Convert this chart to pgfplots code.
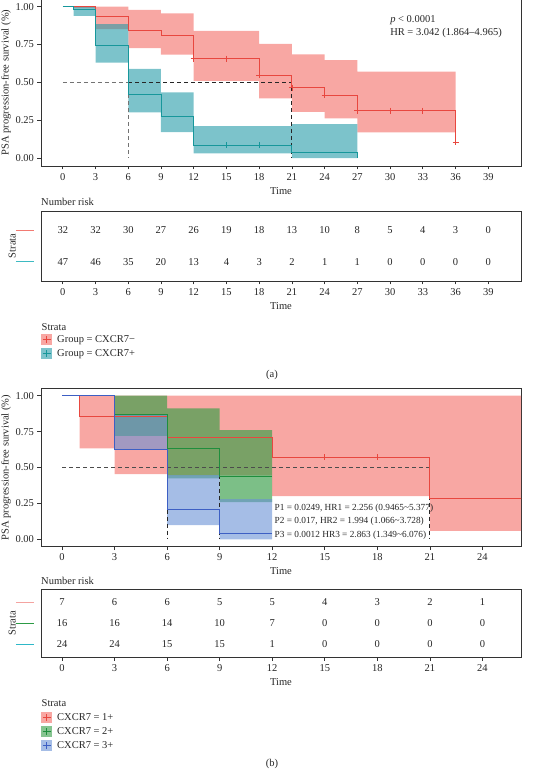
\documentclass[border=0pt]{standalone}
\usepackage{pgfplots}
\pgfplotsset{compat=1.18}
\usepackage{fontspec}
\setmainfont{Liberation Serif}
\definecolor{redline}{HTML}{E8473F}
\definecolor{redfill}{HTML}{F46C65}
\definecolor{cyanline}{HTML}{17979B}
\definecolor{cyanfill}{HTML}{259BA8}
\definecolor{greenline}{HTML}{1F8E3D}
\definecolor{greenfill}{HTML}{359D46}
\definecolor{blueline}{HTML}{3D5FC4}
\definecolor{bluefill}{HTML}{6991D5}
\definecolor{framec}{HTML}{333333}
\definecolor{riskA}{HTML}{F27A72}
\definecolor{riskB}{HTML}{3DBAC2}
\definecolor{riskp}{HTML}{F4A3A0}
\definecolor{riskg}{HTML}{2C9B45}
\definecolor{riskc}{HTML}{2EB8C8}
\newcommand{\fs}{\fontsize{10.5}{12}\selectfont}
\newcommand{\rl}[1]{\textcolor{#1}{\rule{18pt}{0.9pt}}}
\pgfplotsset{
  kmbase/.style={
    scale only axis, width=480pt,
    axis line style={framec, line width=0.9pt},
    tick pos=left, tick align=outside, major tick length=3.5pt,
    every tick/.style={framec, line width=0.8pt},
    tick label style={font=\fs, text=black!85},
    xticklabel style={anchor=north, text height=7pt, text depth=0pt},
    label style={font=\fs, text=black!85},
    /pgf/number format/assume math mode=true,
  },
  ticksA/.style={xtick={0,3,6,9,12,15,18,21,24,27,30,33,36,39},
     xticklabels={0,3,6,9,12,15,18,21,24,27,30,33,36,39}},
  ticksB/.style={xtick={0,3,6,9,12,15,18,21,24},
     xticklabels={0,3,6,9,12,15,18,21,24}},
  kmkey/.style 2 args={legend image code/.code={
     \fill[#1, fill opacity=0.6, draw=none] (0pt,-5.5pt) rectangle (11pt,5.5pt);
     \draw[#2, line width=0.8pt] (1.5pt,0pt)--(9.5pt,0pt) (5.5pt,-3.5pt)--(5.5pt,3.5pt);}},
  kmleg/.style={legend style={draw=none, fill=none, font=\fs, text=black!85,
     legend cell align=left, row sep=3pt, column sep=5pt, inner sep=0pt,
     nodes={inner sep=0pt}}},
  surv/.style={line width=0.9pt},
  cens/.style={only marks, mark=+, mark size=3pt, line width=0.8pt},
  med/.style={dash pattern=on 4pt off 3pt, line width=0.9pt},
  risknum/.style={draw=none, mark=none, forget plot, nodes near coords, point meta=explicit symbolic,
     every node near coord/.style={font=\fs, text=black!85, anchor=center}},
}
\begin{document}
\begin{tikzpicture}
\useasboundingbox (0,0) rectangle (544pt,774pt);
% ---------------- (a) survival ----------------
\begin{axis}[kmbase, ticksA, at={(41pt,608pt)}, anchor=south west, height=167pt,
  xmin=-2, xmax=42, ymin=-0.05, ymax=1.05,
  ytick={0,0.25,0.5,0.75,1}, yticklabels={0.00,0.25,0.50,0.75,1.00},
  xlabel={Time}, ylabel={PSA progression-free survival (\%)},
  xlabel style={at={(axis description cs:0.5,-0.15)}, anchor=center},
  ylabel style={at={(axis description cs:-0.073,0.5)}, anchor=center},
]
\addplot[draw=none, fill=redfill, fill opacity=0.6] coordinates {
 (1,1)(6,1)(6,0.978)(9,0.978)(9,0.956)(12,0.956)(12,0.840)(18,0.840)(18,0.754)(21,0.754)
 (21,0.686)(24,0.686)(24,0.648)(27,0.648)(27,0.571)(36,0.571)
 (36,0.171)(27,0.171)(27,0.264)(24,0.264)(24,0.307)(21,0.307)(21,0.396)(18,0.396)(18,0.510)(12,0.510)
 (12,0.684)(9,0.684)(9,0.726)(6,0.726)(6,0.851)(3,0.851)(3,0.99)(1,0.99)};
\addplot[draw=none, fill=cyanfill, fill opacity=0.6] coordinates {
 (1,1)(3,1)(3,0.884)(6,0.884)(6,0.589)(9,0.589)(9,0.435)(12,0.435)(12,0.213)(21,0.213)(21,0.226)(27,0.226)
 (27,0.002)(21,0.002)(21,0.033)(12,0.033)(12,0.173)(9,0.173)(9,0.303)(6,0.303)(6,0.631)(3,0.631)(3,0.939)(1,0.939)};
\addplot[med, black!55] coordinates {(0,0.5)(6,0.5)(6,0)};
\addplot[med, black!85] coordinates {(6,0.5)(21,0.5)(21,0)};
\addplot[surv, redline] coordinates {
 (0,1)(3,1)(3,0.938)(6,0.938)(6,0.842)(9,0.842)(9,0.812)(12,0.812)(12,0.657)(18,0.657)(18,0.549)(21,0.549)
 (21,0.467)(24,0.467)(24,0.416)(27,0.416)(27,0.314)(36,0.314)(36,0.107)};
\addplot[cens, redline] coordinates {(12,0.657)(15,0.657)(18,0.549)(21,0.467)(24,0.416)(27,0.314)(30,0.314)(33,0.314)(36,0.107)};
\addplot[surv, cyanline] coordinates {
 (0,1)(1,1)(1,0.978)(3,0.978)(3,0.743)(6,0.743)(6,0.422)(9,0.422)(9,0.277)(12,0.277)(12,0.086)(21,0.086)(21,0.040)(27,0.040)(27,0.005)};
\addplot[cens, cyanline] coordinates {(15,0.086)(18,0.086)};
\node[anchor=west, font=\fs, text=black!85, inner sep=0pt] at (axis cs:30,0.912) {\textit{p} < 0.0001};
\node[anchor=west, font=\fs, text=black!85, inner sep=0pt] at (axis cs:30,0.826) {HR = 3.042 (1.864–4.965)};
\end{axis}
% ---------------- (a) risk table ----------------
\begin{axis}[kmbase, kmleg, ticksA, at={(41pt,493pt)}, anchor=south west, height=70pt,
  xmin=-2, xmax=42, ymin=0.4, ymax=2.6,
  ytick={1,2}, yticklabels={\rl{riskB},\rl{riskA}},
  ytick style={draw=none},
  xlabel={Time}, ylabel={Strata},
  xlabel style={at={(axis description cs:0.5,-0.357)}, anchor=center},
  ylabel style={at={(axis description cs:-0.060,0.5)}, anchor=center},
  title={Number risk}, title style={font=\fs, text=black!85, at={(axis description cs:0,1)}, anchor=west, yshift=3pt, inner sep=0pt},
  legend style={at={(axis description cs:0,-0.757)}, anchor=north west},
]
\addplot[risknum] coordinates {(0,2)[32] (3,2)[32] (6,2)[30] (9,2)[27] (12,2)[26] (15,2)[19] (18,2)[18] (21,2)[13] (24,2)[10] (27,2)[8] (30,2)[5] (33,2)[4] (36,2)[3] (39,2)[0]};
\addplot[risknum] coordinates {(0,1)[47] (3,1)[46] (6,1)[35] (9,1)[20] (12,1)[13] (15,1)[4] (18,1)[3] (21,1)[2] (24,1)[1] (27,1)[1] (30,1)[0] (33,1)[0] (36,1)[0] (39,1)[0]};
\addlegendimage{kmkey={redfill}{redline}}
\addlegendentry{Group = CXCR7−}
\addlegendimage{kmkey={cyanfill}{cyanline}}
\addlegendentry{Group = CXCR7+}
\end{axis}
\node[anchor=west, font=\fs, text=black!85, inner sep=0pt] at (41.5pt,447pt) {Strata};
\node[font=\fs, text=black!85, inner sep=0pt] at (272pt,399pt) {(a)};
% ---------------- (b) survival ----------------
\begin{axis}[kmbase, ticksB, at={(41pt,227.4pt)}, anchor=south west, height=158.1pt,
  xmin=-1.2, xmax=26.2, ymin=-0.05, ymax=1.05,
  ytick={0,0.25,0.5,0.75,1}, yticklabels={0.00,0.25,0.50,0.75,1.00},
  xlabel={Time}, ylabel={PSA progression-free survival (\%)},
  xlabel style={at={(axis description cs:0.5,-0.152)}, anchor=center},
  ylabel style={at={(axis description cs:-0.073,0.5)}, anchor=center},
]
\addplot[draw=none, fill=redfill, fill opacity=0.6] coordinates {
 (1,1)(27,1)(27,0.06)(21,0.06)(21,0.301)(12,0.301)(12,0.445)(6,0.445)(6,0.455)(3,0.455)(3,0.634)(1,0.634)};
\addplot[draw=none, fill=greenfill, fill opacity=0.65] coordinates {
 (3,1)(6,1)(6,0.912)(9,0.912)(9,0.761)(12,0.761)(12,0.259)(9,0.259)(9,0.425)(6,0.425)(6,0.721)(3,0.721)};
\addplot[draw=none, fill=bluefill, fill opacity=0.6] coordinates {
 (3,0.872)(6,0.872)(6,0.448)(9,0.448)(9,0.281)(12,0.281)(12,0.0)(9,0.0)(9,0.0995)(6,0.0995)(6,0.629)(3,0.629)};
\addplot[med, black!70] coordinates {(0,0.5)(21,0.5)};
\addplot[med, black!85] coordinates {(6,0.5)(6,0)};
\addplot[med, black!85] coordinates {(9,0.5)(9,0)};
\addplot[med, black!85] coordinates {(21,0.5)(21,0)};
\addplot[surv, redline] coordinates {
 (0,1)(1,1)(1,0.854)(6,0.854)(6,0.710)(12,0.710)(12,0.571)(21,0.571)(21,0.285)(27,0.285)};
\addplot[cens, redline] coordinates {(15,0.571)(18,0.571)};
\addplot[surv, greenline] coordinates {
 (0,1)(3,1)(3,0.872)(6,0.872)(6,0.631)(9,0.631)(9,0.436)(12,0.436)};
\addplot[surv, blueline] coordinates {
 (0,1)(3,1)(3,0.629)(6,0.629)(6,0.209)(9,0.209)(9,0.040)(12,0.040)};
\node[anchor=west, font=\fontsize{9.3}{11}\selectfont, text=black!85, inner sep=0pt] at (axis cs:12.13,0.22) {P1 = 0.0249, HR1 = 2.256 (0.9465\textasciitilde5.377)};
\node[anchor=west, font=\fontsize{9.3}{11}\selectfont, text=black!85, inner sep=0pt] at (axis cs:12.13,0.123) {P2 = 0.017, HR2 = 1.994 (1.066\textasciitilde3.728)};
\node[anchor=west, font=\fontsize{9.3}{11}\selectfont, text=black!85, inner sep=0pt] at (axis cs:12.13,0.028) {P3 = 0.0012 HR3 = 2.863 (1.349\textasciitilde6.076)};
\end{axis}
% ---------------- (b) risk table ----------------
\begin{axis}[kmbase, kmleg, ticksB, at={(41pt,117pt)}, anchor=south west, height=67.7pt,
  xmin=-1.2, xmax=26.2, ymin=0.4, ymax=3.6,
  ytick={1,2,3}, yticklabels={\rl{riskc},\rl{riskg},\rl{riskp}},
  ytick style={draw=none},
  xlabel={Time}, ylabel={Strata},
  xlabel style={at={(axis description cs:0.5,-0.365)}, anchor=center},
  ylabel style={at={(axis description cs:-0.060,0.5)}, anchor=center},
  title={Number risk}, title style={font=\fs, text=black!85, at={(axis description cs:0,1)}, anchor=west, yshift=2.6pt, inner sep=0pt},
  legend style={at={(axis description cs:0,-0.812)}, anchor=north west},
]
\addplot[risknum] coordinates {(0,3)[7] (3,3)[6] (6,3)[6] (9,3)[5] (12,3)[5] (15,3)[4] (18,3)[3] (21,3)[2] (24,3)[1]};
\addplot[risknum] coordinates {(0,2)[16] (3,2)[16] (6,2)[14] (9,2)[10] (12,2)[7] (15,2)[0] (18,2)[0] (21,2)[0] (24,2)[0]};
\addplot[risknum] coordinates {(0,1)[24] (3,1)[24] (6,1)[15] (9,1)[15] (12,1)[1] (15,1)[0] (18,1)[0] (21,1)[0] (24,1)[0]};
\addlegendimage{kmkey={redfill}{redline}}
\addlegendentry{CXCR7 = 1+}
\addlegendimage{kmkey={greenfill}{greenline}}
\addlegendentry{CXCR7 = 2+}
\addlegendimage{kmkey={bluefill}{blueline}}
\addlegendentry{CXCR7 = 3+}
\end{axis}
\node[anchor=west, font=\fs, text=black!85, inner sep=0pt] at (41.5pt,71pt) {Strata};
\node[font=\fs, text=black!85, inner sep=0pt] at (272pt,10pt) {(b)};
\end{tikzpicture}
\end{document}
